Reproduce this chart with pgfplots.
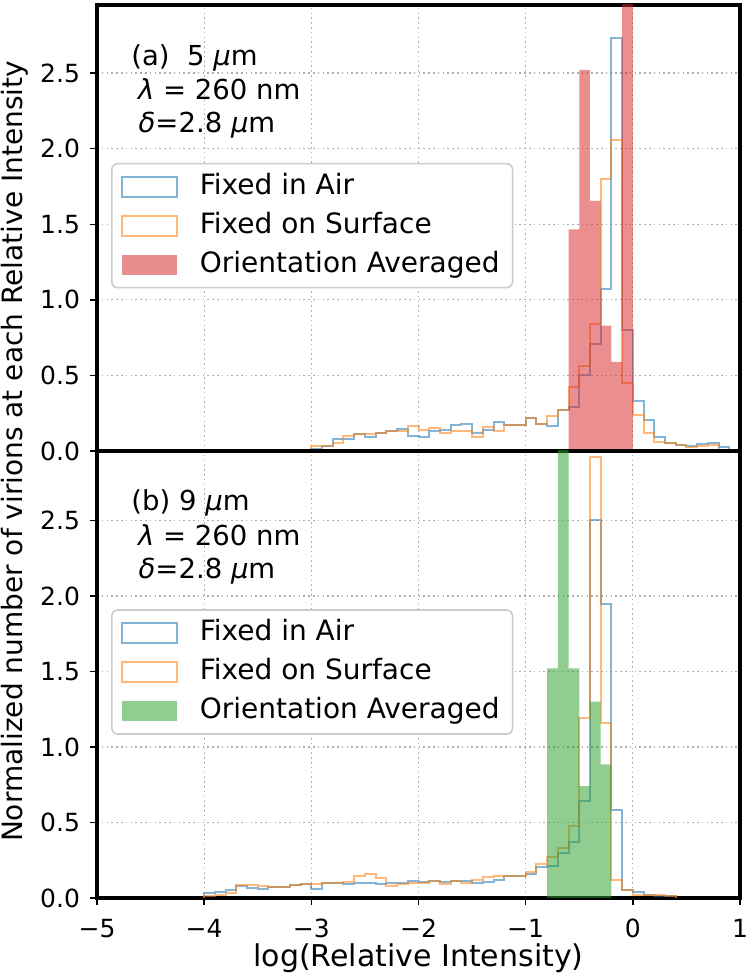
\documentclass[border=0pt]{standalone}
\usepackage{fontspec}
\setmainfont{DejaVu Sans}
\usepackage{pgfplots}
\pgfplotsset{compat=1.18}
\definecolor{tabblue}{HTML}{1F77B4}
\definecolor{taborange}{HTML}{FF7F0E}
\definecolor{tabred}{HTML}{D62728}
\definecolor{tabgreen}{HTML}{2CA02C}
\tikzset{ann/.style={anchor=base west, inner sep=0pt, font=\fontsize{13.75}{16}\selectfont}}
\pgfplotsset{
  common/.style={
    scale only axis, width=321.5pt, xmin=-5, xmax=1, ymin=0,
    axis line style={line width=2pt, black},
    grid=major,
    major grid style={black!32, line width=0.6pt, dash pattern=on 0.8pt off 1.6pt},
    ytick={0,0.5,1,1.5,2,2.5}, yticklabels={0.0,0.5,1.0,1.5,2.0,2.5},
    xtick={-5,-4,-3,-2,-1,0,1},
    tick align=outside, ytick pos=left, xtick pos=left,
    major tick length=3.5pt,
    tick style={black, line width=0.7pt},
    xticklabel style={yshift=-3.5pt},
    yticklabel style={xshift=-1.5pt},
    legend image code/.code={\draw[sharp corners,#1] (0pt,-5pt) rectangle (27.5pt,5pt);},
    legend cell align=left,
    legend style={at={(0.0218,0.646)}, anchor=north west, draw=black!20, line width=0.8pt,
      rounded corners=3pt, fill=white, inner xsep=4.5pt, inner ysep=2.75pt, row sep=2pt,
      column sep=9pt,
      nodes={inner sep=2pt, text height=10.5pt, text depth=3pt},
      font=\fontsize{14}{16}\selectfont},
  },
  bl/.style={const plot, draw=tabblue, draw opacity=0.55, line width=1pt, fill=none},
  ol/.style={const plot, draw=taborange, draw opacity=0.55, line width=1pt, fill=none},
  fl/.style={const plot, fill=#1, fill opacity=0.52, draw=none,
    legend image code/.code={\path[sharp corners,##1,draw=none] (0pt,-5pt) rectangle (27.5pt,5pt);}},
}
\begin{document}
\begin{tikzpicture}[font=\fontsize{12.5}{15}\selectfont]
\useasboundingbox (0,0) rectangle (375pt,486.5pt);
% ---------------- top panel ----------------
\begin{axis}[common, at={(48.5pt,261pt)}, anchor=south west, height=223pt, ymax=2.95,
  xticklabels={}, x tick style={draw=none}]
\addplot[bl] coordinates {
(-3.0,0) (-3.0,0.01) (-2.9,0.03) (-2.8,0.077) (-2.7,0.08) (-2.6,0.11) (-2.5,0.095)
(-2.4,0.12) (-2.3,0.135) (-2.2,0.145) (-2.1,0.10) (-2.0,0.09) (-1.9,0.13) (-1.8,0.14)
(-1.7,0.17) (-1.6,0.18) (-1.5,0.12) (-1.4,0.14) (-1.3,0.19) (-1.2,0.17) (-1.1,0.17)
(-1.0,0.22) (-0.9,0.18) (-0.8,0.165) (-0.7,0.27) (-0.6,0.29) (-0.5,0.50) (-0.4,0.705)
(-0.3,1.07) (-0.2,2.73) (-0.1,0.80) (0.0,0.33) (0.1,0.205) (0.2,0.09) (0.3,0.055)
(0.4,0.04) (0.5,0.03) (0.6,0.045) (0.7,0.055) (0.8,0.025) (0.9,0.025) (0.9,0)};
\addlegendentry{Fixed in Air}
\addplot[ol] coordinates {
(-3.0,0) (-3.0,0.03) (-2.9,0.03) (-2.8,0.05) (-2.7,0.10) (-2.6,0.11) (-2.5,0.11)
(-2.4,0.12) (-2.3,0.13) (-2.2,0.13) (-2.1,0.165) (-2.0,0.14) (-1.9,0.15) (-1.8,0.12)
(-1.7,0.13) (-1.6,0.13) (-1.5,0.09) (-1.4,0.16) (-1.3,0.13) (-1.2,0.17) (-1.1,0.17)
(-1.0,0.22) (-0.9,0.18) (-0.8,0.23) (-0.7,0.27) (-0.6,0.42) (-0.5,0.56) (-0.4,0.84)
(-0.3,1.80) (-0.2,2.06) (-0.1,0.45) (0.0,0.24) (0.1,0.117) (0.2,0.06) (0.3,0.05)
(0.4,0.04) (0.5,0.025) (0.6,0.035) (0.7,0.04) (0.8,0.04) (0.8,0)};
\addlegendentry{Fixed on Surface}
\addplot[fl=tabred] coordinates {
(-0.6,1.465) (-0.5,2.52) (-0.4,1.655) (-0.3,0.83) (-0.2,0.59) (-0.1,3.4) (0.0,3.4)} \closedcycle;
\addlegendentry{Orientation Averaged}
\node[ann] at (axis cs:-4.683,2.548) {(a)\ \ 5 {\itshape μ}m};
\node[ann] at (axis cs:-4.62,2.326) {{\itshape λ} = 260 nm};
\node[ann] at (axis cs:-4.615,2.105) {{\itshape δ}=2.8 {\itshape μ}m};
\end{axis}
% ---------------- bottom panel ----------------
\begin{axis}[common, at={(48.5pt,37.5pt)}, anchor=south west, height=223.5pt, ymax=2.96,
  xticklabels={−5,−4,−3,−2,−1,0,1}]
\addplot[bl] coordinates {
(-4.0,0) (-4.0,0.03) (-3.9,0.04) (-3.8,0.05) (-3.7,0.078) (-3.6,0.067) (-3.5,0.062)
(-3.4,0.073) (-3.3,0.073) (-3.2,0.085) (-3.1,0.09) (-3.0,0.062) (-2.9,0.10) (-2.8,0.10)
(-2.7,0.095) (-2.6,0.10) (-2.5,0.10) (-2.4,0.095) (-2.3,0.10) (-2.2,0.10) (-2.1,0.113)
(-2.0,0.107) (-1.9,0.113) (-1.8,0.107) (-1.7,0.113) (-1.6,0.113) (-1.5,0.10) (-1.4,0.107)
(-1.3,0.122) (-1.2,0.145) (-1.1,0.145) (-1.0,0.16) (-0.9,0.207) (-0.8,0.21) (-0.7,0.30)
(-0.6,0.37) (-0.5,0.64) (-0.4,2.50) (-0.3,1.945) (-0.2,0.585) (-0.1,0.05) (0.0,0.04)
(0.1,0.02) (0.2,0.01) (0.3,0.01) (0.4,0.01) (0.4,0)};
\addlegendentry{Fixed in Air}
\addplot[ol] coordinates {
(-4.0,0) (-4.0,0.01) (-3.9,0.02) (-3.8,0.03) (-3.7,0.085) (-3.6,0.085) (-3.5,0.078)
(-3.4,0.073) (-3.3,0.073) (-3.2,0.085) (-3.1,0.09) (-3.0,0.095) (-2.9,0.10) (-2.8,0.10)
(-2.7,0.107) (-2.6,0.145) (-2.5,0.16) (-2.4,0.135) (-2.3,0.08) (-2.2,0.095) (-2.1,0.10)
(-2.0,0.10) (-1.9,0.113) (-1.8,0.095) (-1.7,0.113) (-1.6,0.10) (-1.5,0.118) (-1.4,0.14)
(-1.3,0.145) (-1.2,0.145) (-1.1,0.145) (-1.0,0.173) (-0.9,0.224) (-0.8,0.27) (-0.7,0.33)
(-0.6,0.48) (-0.5,1.19) (-0.4,2.92) (-0.3,1.158) (-0.2,0.12) (-0.1,0.055) (0.0,0.02)
(0.1,0.02) (0.2,0.02) (0.3,0.015) (0.4,0.015) (0.4,0)};
\addlegendentry{Fixed on Surface}
\addplot[fl=tabgreen] coordinates {
(-0.8,1.52) (-0.7,3.5) (-0.6,1.52) (-0.5,0.74) (-0.4,1.30) (-0.3,0.885) (-0.2,0.885)} \closedcycle;
\addlegendentry{Orientation Averaged}
\node[ann] at (axis cs:-4.683,2.563) {(b) 9 {\itshape μ}m};
\node[ann] at (axis cs:-4.62,2.336) {{\itshape λ} = 260 nm};
\node[ann] at (axis cs:-4.615,2.118) {{\itshape δ}=2.8 {\itshape μ}m};
\end{axis}
\node[rotate=90, anchor=base, font=\fontsize{14}{16}\selectfont] at (11pt,260.75pt) {Normalized number of virions at each Relative Intensity};
\node[anchor=base, font=\fontsize{15}{17}\selectfont] at (209.25pt,3.4pt) {log(Relative Intensity)};
\end{tikzpicture}
\end{document}
